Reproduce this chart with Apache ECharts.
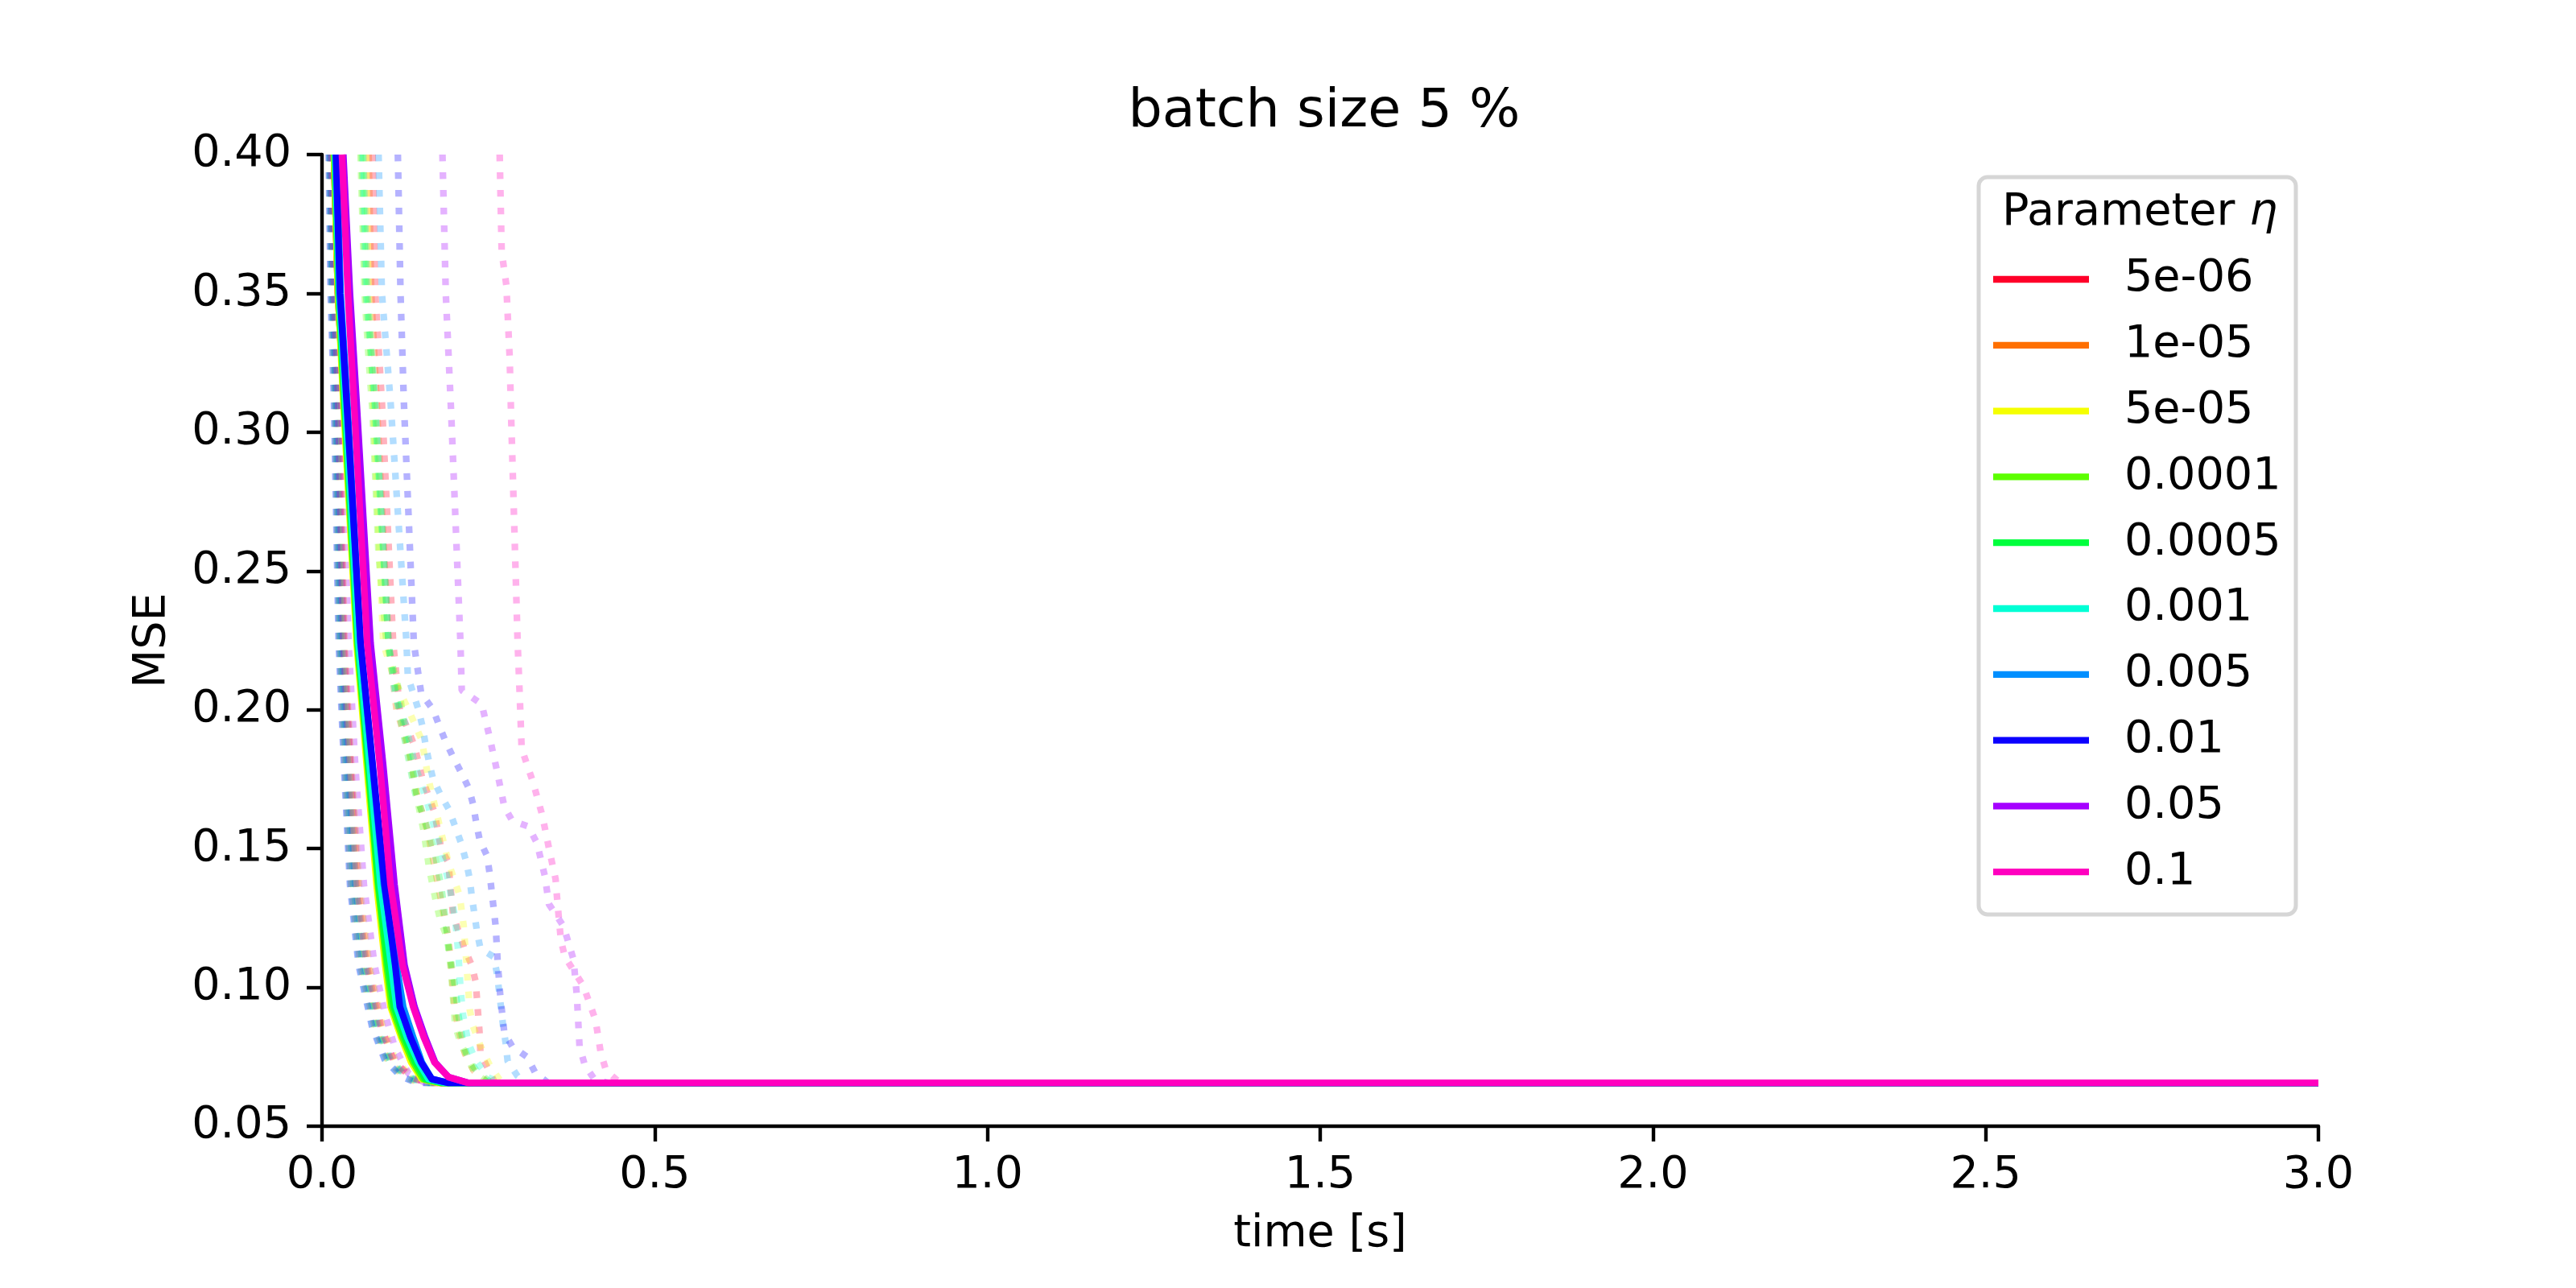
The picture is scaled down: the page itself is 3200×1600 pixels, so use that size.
<!DOCTYPE html>
<html>
<head>
<meta charset="utf-8">
<title>batch size 5 %</title>
<script src="https://cdn.jsdelivr.net/npm/echarts@6/dist/echarts.min.js"></script>
<style>
  html, body { margin: 0; padding: 0; background: #fff; }
  #chart { width: 3200px; height: 1600px; }
</style>
</head>
<body>
<div id="chart"></div>
<script>
// MSE over time, batch size 5 %

// learning rates (legend) and their colours
var etaNames = ['5e-06', '1e-05', '5e-05', '0.0001', '0.0005', '0.001', '0.005', '0.01', '0.05', '0.1'];
var etaColors = ['#ff0029', '#ff7000', '#f5ff00', '#5cff00', '#00ff3d', '#00ffd5', '#008fff', '#0b00ff', '#a500ff', '#ff00bf'];

// axis ticks
var xTicks = [0.0, 0.5, 1.0, 1.5, 2.0, 2.5, 3.0];
var yTicks = [0.05, 0.10, 0.15, 0.20, 0.25, 0.30, 0.35, 0.40];

// solid runs: [time, mse]
var solid_5e06 = [[0.018, 0.40], [0.024, 0.35], [0.033, 0.311], [0.053, 0.224], [0.083, 0.137], [0.096, 0.108], [0.105, 0.093], [0.121, 0.082], [0.137, 0.073], [0.152, 0.067], [0.178, 0.0656], [3.0, 0.0656]];
var solid_1e05 = [[0.018, 0.40], [0.024, 0.35], [0.033, 0.311], [0.053, 0.224], [0.083, 0.137], [0.096, 0.108], [0.104, 0.093], [0.120, 0.082], [0.136, 0.073], [0.151, 0.067], [0.178, 0.0656], [3.0, 0.0656]];
var solid_5e05 = [[0.018, 0.40], [0.024, 0.35], [0.032, 0.311], [0.052, 0.224], [0.082, 0.137], [0.095, 0.108], [0.103, 0.093], [0.119, 0.082], [0.134, 0.073], [0.150, 0.067], [0.175, 0.0656], [3.0, 0.0656]];
var solid_1e04 = [[0.019, 0.40], [0.025, 0.35], [0.033, 0.311], [0.053, 0.224], [0.084, 0.137], [0.097, 0.108], [0.105, 0.093], [0.121, 0.082], [0.137, 0.073], [0.152, 0.067], [0.180, 0.0656], [3.0, 0.0656]];
var solid_5e04 = [[0.019, 0.40], [0.025, 0.35], [0.034, 0.311], [0.054, 0.224], [0.085, 0.137], [0.099, 0.108], [0.108, 0.093], [0.124, 0.082], [0.140, 0.073], [0.155, 0.067], [0.180, 0.0656], [3.0, 0.0656]];
var solid_1e03 = [[0.020, 0.40], [0.026, 0.35], [0.035, 0.311], [0.055, 0.224], [0.088, 0.137], [0.104, 0.108], [0.112, 0.093], [0.128, 0.082], [0.145, 0.073], [0.160, 0.067], [0.185, 0.0656], [3.0, 0.0656]];
var solid_5e03 = [[0.022, 0.40], [0.028, 0.35], [0.038, 0.311], [0.058, 0.224], [0.093, 0.137], [0.112, 0.108], [0.122, 0.093], [0.137, 0.082], [0.150, 0.073], [0.165, 0.067], [0.190, 0.0656], [3.0, 0.0656]];
var solid_1e02 = [[0.021, 0.40], [0.027, 0.35], [0.037, 0.311], [0.058, 0.224], [0.094, 0.137], [0.110, 0.108], [0.117, 0.093], [0.133, 0.082], [0.149, 0.073], [0.165, 0.067], [0.190, 0.0656], [3.0, 0.0656]];
var solid_5e02 = [[0.032, 0.40], [0.042, 0.35], [0.052, 0.311], [0.073, 0.224], [0.092, 0.180], [0.109, 0.137], [0.124, 0.108], [0.139, 0.093], [0.155, 0.082], [0.170, 0.073], [0.190, 0.0677], [0.220, 0.0656], [3.0, 0.0656]];
var solid_1e01 = [[0.030, 0.40], [0.039, 0.35], [0.048, 0.311], [0.068, 0.224], [0.087, 0.180], [0.103, 0.137], [0.121, 0.108], [0.137, 0.093], [0.153, 0.082], [0.169, 0.073], [0.190, 0.0677], [0.220, 0.0656], [3.0, 0.0656]];

// dotted runs, fast group near the y axis
var dotA_5e06 = [[0.015, 0.40], [0.019, 0.35], [0.025, 0.311], [0.033, 0.224], [0.043, 0.18], [0.054, 0.137], [0.069, 0.108], [0.090, 0.085], [0.109, 0.073], [0.133, 0.068], [0.157, 0.0656], [3.0, 0.0656]];
var dotA_1e05 = [[0.012, 0.40], [0.015, 0.35], [0.020, 0.311], [0.027, 0.224], [0.035, 0.18], [0.044, 0.137], [0.058, 0.108], [0.079, 0.086], [0.098, 0.074], [0.122, 0.068], [0.146, 0.0656], [3.0, 0.0656]];
var dotA_5e05 = [[0.016, 0.40], [0.020, 0.35], [0.026, 0.311], [0.034, 0.224], [0.044, 0.18], [0.056, 0.137], [0.071, 0.108], [0.091, 0.086], [0.110, 0.074], [0.134, 0.068], [0.158, 0.0656], [3.0, 0.0656]];
var dotA_1e04 = [[0.014, 0.40], [0.017, 0.35], [0.023, 0.311], [0.031, 0.224], [0.041, 0.18], [0.051, 0.137], [0.066, 0.108], [0.086, 0.085], [0.105, 0.073], [0.130, 0.068], [0.154, 0.0656], [3.0, 0.0656]];
var dotA_5e04 = [[0.013, 0.40], [0.016, 0.35], [0.021, 0.311], [0.028, 0.224], [0.037, 0.18], [0.047, 0.137], [0.061, 0.108], [0.081, 0.086], [0.100, 0.074], [0.125, 0.068], [0.150, 0.0656], [3.0, 0.0656]];
var dotA_1e03 = [[0.011, 0.40], [0.014, 0.35], [0.019, 0.311], [0.026, 0.224], [0.034, 0.18], [0.043, 0.137], [0.056, 0.108], [0.076, 0.086], [0.095, 0.074], [0.119, 0.068], [0.144, 0.0656], [3.0, 0.0656]];
var dotA_5e03 = [[0.012, 0.40], [0.016, 0.35], [0.022, 0.311], [0.030, 0.224], [0.039, 0.18], [0.050, 0.137], [0.064, 0.108], [0.084, 0.085], [0.104, 0.073], [0.128, 0.068], [0.153, 0.0656], [3.0, 0.0656]];
var dotA_1e02 = [[0.010, 0.40], [0.013, 0.35], [0.018, 0.311], [0.025, 0.224], [0.033, 0.18], [0.042, 0.137], [0.055, 0.108], [0.075, 0.086], [0.094, 0.074], [0.118, 0.068], [0.142, 0.0656], [3.0, 0.0656]];
var dotA_5e02 = [[0.020, 0.40], [0.024, 0.35], [0.029, 0.311], [0.040, 0.224], [0.050, 0.18], [0.063, 0.137], [0.079, 0.108], [0.095, 0.090], [0.110, 0.078], [0.130, 0.069], [0.155, 0.0656], [3.0, 0.0656]];
var dotA_1e01 = [[0.014, 0.40], [0.018, 0.35], [0.024, 0.311], [0.032, 0.224], [0.042, 0.18], [0.052, 0.137], [0.067, 0.108], [0.088, 0.086], [0.107, 0.074], [0.131, 0.068], [0.155, 0.0656], [3.0, 0.0656]];

// dotted runs, slow group
var dotB_5e06 = [[0.076, 0.40], [0.080, 0.35], [0.090, 0.311], [0.107, 0.224], [0.117, 0.200], [0.139, 0.187], [0.151, 0.175], [0.169, 0.163], [0.179, 0.150], [0.190, 0.145], [0.192, 0.139], [0.197, 0.126], [0.214, 0.114], [0.225, 0.108], [0.231, 0.102], [0.233, 0.0955], [0.237, 0.083], [0.238, 0.0766], [0.244, 0.0734], [0.260, 0.0656], [3.0, 0.0656]];
var dotB_1e05 = [[0.070, 0.40], [0.074, 0.35], [0.082, 0.311], [0.100, 0.224], [0.112, 0.200], [0.130, 0.186], [0.142, 0.170], [0.160, 0.155], [0.172, 0.140], [0.180, 0.130], [0.190, 0.118], [0.195, 0.105], [0.199, 0.093], [0.205, 0.085], [0.215, 0.076], [0.228, 0.070], [0.250, 0.0656], [3.0, 0.0656]];
var dotB_5e05 = [[0.066, 0.40], [0.070, 0.35], [0.077, 0.311], [0.092, 0.224], [0.110, 0.210], [0.130, 0.200], [0.150, 0.189], [0.160, 0.175], [0.175, 0.160], [0.190, 0.145], [0.207, 0.133], [0.213, 0.122], [0.217, 0.109], [0.222, 0.092], [0.227, 0.086], [0.238, 0.079], [0.252, 0.072], [0.270, 0.0656], [3.0, 0.0656]];
var dotB_1e04 = [[0.058, 0.40], [0.064, 0.35], [0.070, 0.327], [0.076, 0.307], [0.085, 0.256], [0.097, 0.224], [0.117, 0.206], [0.123, 0.194], [0.135, 0.181], [0.143, 0.168], [0.153, 0.156], [0.161, 0.143], [0.172, 0.130], [0.178, 0.124], [0.188, 0.118], [0.194, 0.106], [0.198, 0.093], [0.200, 0.0865], [0.208, 0.080], [0.218, 0.075], [0.230, 0.069], [0.250, 0.0656], [3.0, 0.0656]];
var dotB_5e04 = [[0.060, 0.40], [0.066, 0.35], [0.079, 0.311], [0.100, 0.224], [0.115, 0.200], [0.128, 0.185], [0.140, 0.170], [0.155, 0.160], [0.170, 0.148], [0.180, 0.135], [0.185, 0.125], [0.190, 0.115], [0.200, 0.100], [0.205, 0.090], [0.212, 0.080], [0.220, 0.074], [0.235, 0.069], [0.255, 0.0656], [3.0, 0.0656]];
var dotB_1e03 = [[0.062, 0.40], [0.068, 0.35], [0.080, 0.311], [0.100, 0.224], [0.110, 0.205], [0.125, 0.195], [0.140, 0.180], [0.160, 0.165], [0.178, 0.150], [0.190, 0.138], [0.200, 0.125], [0.205, 0.112], [0.208, 0.100], [0.212, 0.090], [0.220, 0.080], [0.230, 0.074], [0.250, 0.0675], [0.270, 0.0656], [3.0, 0.0656]];
var dotB_5e03 = [[0.085, 0.40], [0.090, 0.35], [0.103, 0.311], [0.127, 0.224], [0.129, 0.212], [0.137, 0.206], [0.145, 0.200], [0.151, 0.194], [0.156, 0.187], [0.161, 0.181], [0.167, 0.175], [0.179, 0.169], [0.191, 0.164], [0.200, 0.158], [0.209, 0.152], [0.217, 0.145], [0.222, 0.139], [0.225, 0.133], [0.229, 0.1265], [0.233, 0.120], [0.238, 0.114], [0.258, 0.111], [0.263, 0.105], [0.266, 0.099], [0.272, 0.0865], [0.276, 0.080], [0.279, 0.0734], [0.294, 0.068], [0.310, 0.0656], [3.0, 0.0656]];
var dotB_1e02 = [[0.114, 0.40], [0.118, 0.35], [0.123, 0.311], [0.138, 0.224], [0.149, 0.206], [0.167, 0.200], [0.175, 0.195], [0.185, 0.189], [0.197, 0.183], [0.210, 0.177], [0.221, 0.1715], [0.227, 0.166], [0.232, 0.159], [0.237, 0.153], [0.248, 0.1474], [0.252, 0.141], [0.255, 0.1346], [0.261, 0.122], [0.264, 0.109], [0.268, 0.0967], [0.274, 0.0836], [0.286, 0.0787], [0.308, 0.075], [0.321, 0.069], [0.340, 0.0656], [3.0, 0.0656]];
var dotB_5e02 = [[0.181, 0.40], [0.186, 0.35], [0.194, 0.3075], [0.208, 0.2245], [0.210, 0.207], [0.240, 0.202], [0.252, 0.190], [0.263, 0.178], [0.274, 0.165], [0.286, 0.160], [0.310, 0.158], [0.323, 0.152], [0.335, 0.140], [0.341, 0.130], [0.363, 0.122], [0.378, 0.110], [0.383, 0.097], [0.387, 0.0787], [0.395, 0.072], [0.409, 0.067], [0.430, 0.0656], [3.0, 0.0656]];
var dotB_1e01 = [[0.267, 0.40], [0.270, 0.365], [0.277, 0.353], [0.282, 0.327], [0.284, 0.3075], [0.294, 0.224], [0.297, 0.206], [0.300, 0.186], [0.317, 0.174], [0.331, 0.162], [0.342, 0.149], [0.351, 0.139], [0.354, 0.130], [0.359, 0.117], [0.365, 0.111], [0.393, 0.1004], [0.411, 0.0883], [0.419, 0.0763], [0.427, 0.070], [0.448, 0.0656], [3.0, 0.0656]];

var solidRuns = [solid_5e06, solid_1e05, solid_5e05, solid_1e04, solid_5e04, solid_1e03, solid_5e03, solid_1e02, solid_5e02, solid_1e01];
var dotARuns = [dotA_5e06, dotA_1e05, dotA_5e05, dotA_1e04, dotA_5e04, dotA_1e03, dotA_5e03, dotA_1e02, dotA_5e02, dotA_1e01];
var dotBRuns = [dotB_5e06, dotB_1e05, dotB_5e05, dotB_1e04, dotB_5e04, dotB_1e03, dotB_5e03, dotB_1e02, dotB_5e02, dotB_1e01];

var FONT = 'DejaVu Sans';
var LW = 8.3;

var series = [];
for (var i = 0; i < etaNames.length; i++) {
    series.push({
        name: 'fast ' + etaNames[i], type: 'line', data: dotARuns[i], symbol: 'none', z: 2,
        lineStyle: { color: etaColors[i], width: LW, type: [8.3, 13.7], cap: 'butt', opacity: 0.3 },
        itemStyle: { color: etaColors[i] }
    });
    series.push({
        name: 'slow ' + etaNames[i], type: 'line', data: dotBRuns[i], symbol: 'none', z: 2,
        lineStyle: { color: etaColors[i], width: LW, type: [8.3, 13.7], cap: 'butt', opacity: 0.3 },
        itemStyle: { color: etaColors[i] }
    });
}
for (var j = 0; j < etaNames.length; j++) {
    series.push({
        name: etaNames[j], type: 'line', data: solidRuns[j], symbol: 'none', z: 3,
        lineStyle: { color: etaColors[j], width: LW, join: 'round' },
        itemStyle: { color: etaColors[j] }
    });
}

var myChart = echarts.init(document.getElementById('chart'));

var option = {
    backgroundColor: '#ffffff',
    animation: false,
    title: [{
        text: 'batch size 5 %',
        left: 1640, top: 102, textAlign: 'center',
        textStyle: { fontFamily: FONT, fontSize: 66.7, fontWeight: 'normal', color: '#000', lineHeight: 66 }
    }, {
        text: 'Parameter {i|η}',
        left: 2487, top: 237, z: 20, padding: 0,
        textStyle: {
            fontFamily: FONT, fontSize: 55.6, fontWeight: 'normal', color: '#000', lineHeight: 56,
            rich: { i: { fontFamily: FONT, fontSize: 55.6, fontStyle: 'italic', color: '#000', lineHeight: 56 } }
        }
    }],
    graphic: [{
        type: 'rect', z: 15,
        shape: { x: 2458, y: 220, width: 394, height: 916, r: 11 },
        style: { fill: 'rgba(255,255,255,0.8)', stroke: '#d6d6d6', lineWidth: 5 }
    }],
    legend: {
        data: etaNames,
        orient: 'vertical',
        left: 2476, top: 319, padding: 0, z: 20,
        icon: 'rect', itemWidth: 119, itemHeight: LW, itemGap: 25.8,
        selectedMode: false,
        textStyle: { fontFamily: FONT, fontSize: 55.6, color: '#000', lineHeight: 56, padding: [0, 0, 0, 39] }
    },
    grid: { left: 400, right: 320, top: 192, bottom: 201, containLabel: false },
    xAxis: {
        type: 'value', min: xTicks[0], max: xTicks[xTicks.length - 1], interval: 0.5,
        name: 'time [s]', nameLocation: 'middle', nameGap: 107,
        nameTextStyle: { fontFamily: FONT, fontSize: 55.6, color: '#000', lineHeight: 56 },
        axisLine: { show: true, lineStyle: { color: '#000', width: 4.4 } },
        axisTick: { show: true, inside: false, length: 19, lineStyle: { color: '#000', width: 4.4 } },
        axisLabel: {
            margin: 34, fontFamily: FONT, fontSize: 55.6, color: '#000', lineHeight: 56,
            formatter: function (v) { return v.toFixed(1); }
        },
        splitLine: { show: false }
    },
    yAxis: {
        type: 'value', min: yTicks[0], max: yTicks[yTicks.length - 1], interval: 0.05,
        name: 'MSE', nameLocation: 'middle', nameGap: 182, nameRotate: 90,
        nameTextStyle: { fontFamily: FONT, fontSize: 55.6, color: '#000', lineHeight: 56 },
        axisLine: { show: true, lineStyle: { color: '#000', width: 4.4 } },
        axisTick: { show: true, inside: false, length: 19, lineStyle: { color: '#000', width: 4.4 } },
        axisLabel: {
            margin: 38, fontFamily: FONT, fontSize: 55.6, color: '#000',
            formatter: function (v) { return v.toFixed(2); }
        },
        splitLine: { show: false }
    },
    series: series
};

myChart.setOption(option);
</script>
</body>
</html>
